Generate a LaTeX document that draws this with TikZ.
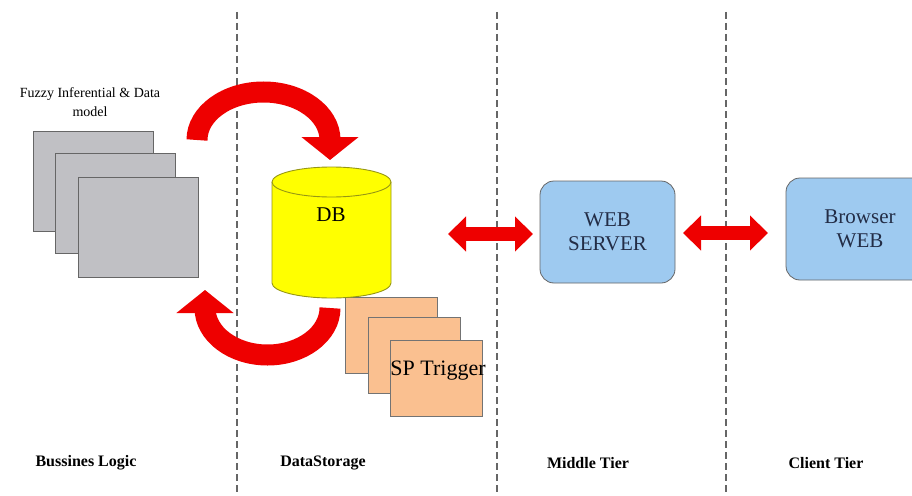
\documentclass[tikz,border=0pt]{standalone}
\usepackage{fontspec}
\setmainfont{Liberation Serif}
\usetikzlibrary{arrows.meta}
\definecolor{arrowred}{RGB}{238,0,0}
\definecolor{boxgray}{RGB}{192,192,196}
\definecolor{peach}{RGB}{250,192,144}
\definecolor{skyblue}{RGB}{158,202,240}
\definecolor{dbyellow}{RGB}{255,255,0}
\definecolor{dbedge}{RGB}{150,150,20}
\definecolor{bluetext}{RGB}{35,45,70}
\tikzset{
  tierline/.style={draw=black!60, line width=1.1pt, dash pattern=on 7pt off 4pt},
  graypage/.style={draw=black!60, fill=boxgray, line width=0.8pt, minimum width=120pt, minimum height=100pt, inner sep=0pt},
  peachpage/.style={draw=black!55, fill=peach, line width=0.8pt, minimum width=92pt, minimum height=76pt, inner sep=0pt},
  tierbox/.style={draw=black!60, fill=skyblue, line width=0.8pt, rounded corners=14pt, inner sep=0pt, align=center, text=bluetext, font=\fontsize{21}{24}\selectfont},
  tierlabel/.style={font=\bfseries\fontsize{16}{19}\selectfont},
  curvedarrow/.style={draw=arrowred, line width=21pt, -{Triangle[width=56pt,length=23pt]}},
  flatarrow/.style={draw=arrowred, line width=14pt, {Triangle[width=34pt,length=18pt]}-{Triangle[width=34pt,length=18pt]}},
}
\begin{document}
\begin{tikzpicture}[x=1pt,y=1pt]
\clip (0,0) rectangle (912,-495);
\fill[white] (0,0) rectangle (912,-495);

% tier separators
\coordinate (s1t) at (237,-12); \coordinate (s1b) at (237,-495);
\coordinate (s2t) at (497,-12); \coordinate (s2b) at (497,-495);
\coordinate (s3t) at (726,-12); \coordinate (s3b) at (726,-495);
\draw[tierline] (s1t) -- (s1b);
\draw[tierline] (s2t) -- (s2b);
\draw[tierline] (s3t) -- (s3b);

% business logic pages
\node[align=center, font=\fontsize{14}{19}\selectfont] (fuzzy) at (90,-102) {Fuzzy Inferential \& Data\\model};
\node[graypage] (g1) at (93.5,-181.5) {};
\node[graypage] (g2) at (115.5,-203.5) {};
\node[graypage] (g3) at (138.5,-227) {};

% SP trigger pages
\node[peachpage] (p1) at (391.5,-335) {};
\node[peachpage] (p2) at (414,-355.5) {};
\node[peachpage] (p3) at (436.5,-378) {};
\node[font=\fontsize{22}{25}\selectfont] (sp) at (438,-371) {SP Trigger};

% DB cylinder
\fill[dbyellow] (272,-182) -- (272,-283) arc[start angle=180,end angle=360,x radius=59.5,y radius=15] -- (391,-182) -- cycle;
\draw[dbedge, line width=0.9pt] (272,-182) -- (272,-283) arc[start angle=180,end angle=360,x radius=59.5,y radius=15] -- (391,-182);
\draw[dbedge, fill=dbyellow, line width=0.9pt] (331.5,-182) ellipse[x radius=59.5, y radius=15];
\node[font=\fontsize{21}{24}\selectfont] (db) at (331,-215) {DB};

% tier boxes
\node[tierbox, minimum width=135pt, minimum height=102pt] (web) at (607.5,-232) {WEB\\SERVER};
\node[tierbox, minimum width=148pt, minimum height=102pt] (browser) at (860,-229) {Browser\\WEB};

% curved arrows between logic and storage
\coordinate (topstart) at (197,-140);
\coordinate (toptip) at (330,-160);
\draw[curvedarrow] (topstart) arc[start angle=180,end angle=0,x radius=66.5,y radius=48] -- (toptip);
\coordinate (botstart) at (330,-308);
\coordinate (bottip) at (205,-290);
\draw[curvedarrow] (botstart) arc[start angle=0,end angle=-180,x radius=62.5,y radius=47] -- (bottip);

% flat double arrows
\coordinate (a1l) at (448,-234); \coordinate (a1r) at (533,-234);
\coordinate (a2l) at (683,-233); \coordinate (a2r) at (768,-233);
\draw[flatarrow] (a1l) -- (a1r);
\draw[flatarrow] (a2l) -- (a2r);

% tier labels
\node[tierlabel] (l1) at (86,-463) {Bussines Logic};
\node[tierlabel] (l2) at (323,-463) {DataStorage};
\node[tierlabel] (l3) at (588,-463) {Middle Tier};
\node[tierlabel] (l4) at (826,-463) {Client Tier};
\end{tikzpicture}
\end{document}
